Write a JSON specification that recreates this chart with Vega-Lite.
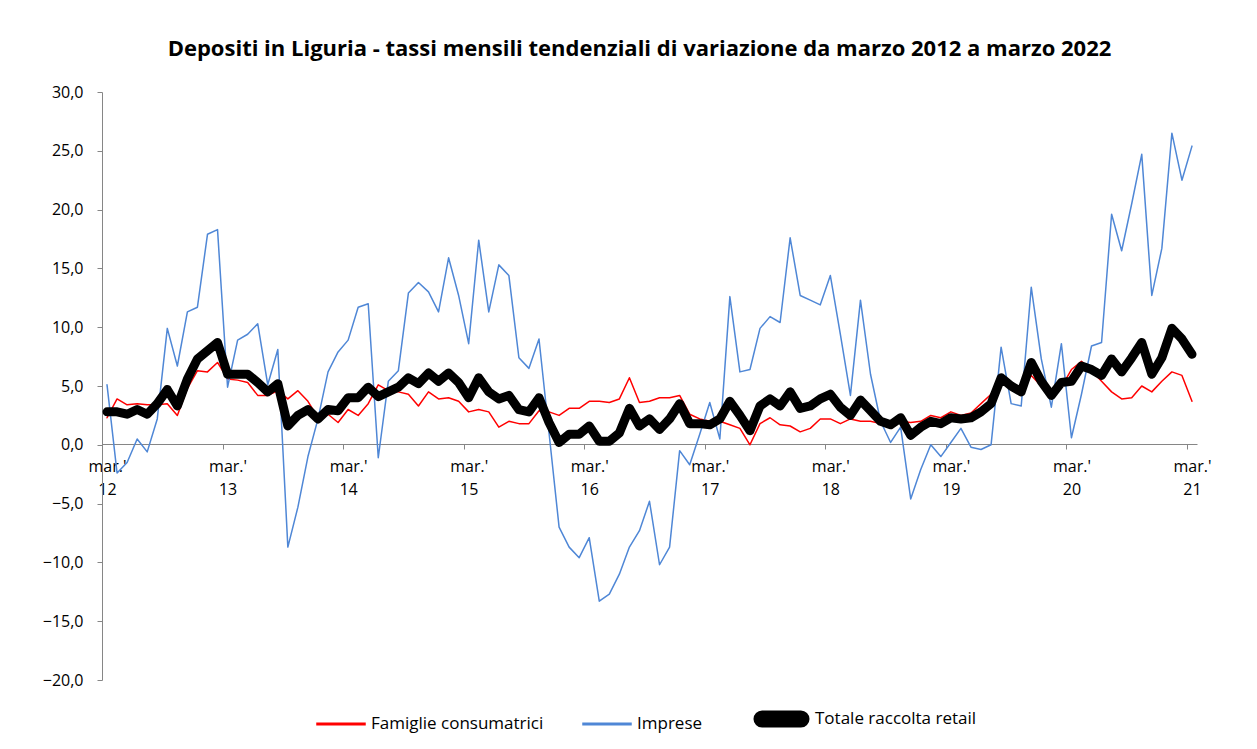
{
"$schema": "https://vega.github.io/schema/vega-lite/v6.json",
"width": 1095, "height": 588,
"autosize": "none",
"padding": {"left": 102, "top": 92, "right": 60, "bottom": 69},
"background": "white",
"config": {"view": {"stroke": null}, "font": "Open Sans"},
"title": {"text": "Depositi in Liguria - tassi mensili tendenziali di variazione da marzo 2012  a marzo 2022", "font": "Open Sans", "fontSize": 22, "fontWeight": "bold", "color": "#000000", "anchor": "middle", "dx": -10, "dy": 28, "offset": 34, "baseline": "alphabetic"},
"data": {"values": [
{"i":0,"fam":2.3,"imp":5.1,"tot":2.8},
{"i":1,"fam":3.9,"imp":-2.4,"tot":2.8},
{"i":2,"fam":3.4,"imp":-1.5,"tot":2.6},
{"i":3,"fam":3.5,"imp":0.5,"tot":3.0},
{"i":4,"fam":3.4,"imp":-0.6,"tot":2.6},
{"i":5,"fam":3.4,"imp":2.2,"tot":3.5},
{"i":6,"fam":3.5,"imp":9.9,"tot":4.7},
{"i":7,"fam":2.5,"imp":6.7,"tot":3.3},
{"i":8,"fam":4.8,"imp":11.3,"tot":5.6},
{"i":9,"fam":6.3,"imp":11.7,"tot":7.3},
{"i":10,"fam":6.2,"imp":17.9,"tot":8.0},
{"i":11,"fam":7.0,"imp":18.3,"tot":8.7},
{"i":12,"fam":5.6,"imp":4.9,"tot":6.0},
{"i":13,"fam":5.5,"imp":8.9,"tot":6.0},
{"i":14,"fam":5.3,"imp":9.4,"tot":6.0},
{"i":15,"fam":4.2,"imp":10.3,"tot":5.3},
{"i":16,"fam":4.2,"imp":5.1,"tot":4.5},
{"i":17,"fam":4.6,"imp":8.1,"tot":5.2},
{"i":18,"fam":3.9,"imp":-8.7,"tot":1.6},
{"i":19,"fam":4.6,"imp":-5.3,"tot":2.5},
{"i":20,"fam":3.7,"imp":-1.0,"tot":3.0},
{"i":21,"fam":2.3,"imp":2.2,"tot":2.2},
{"i":22,"fam":2.6,"imp":6.2,"tot":3.0},
{"i":23,"fam":1.9,"imp":7.9,"tot":2.9},
{"i":24,"fam":3.0,"imp":8.9,"tot":4.0},
{"i":25,"fam":2.5,"imp":11.7,"tot":4.0},
{"i":26,"fam":3.5,"imp":12.0,"tot":4.9},
{"i":27,"fam":5.1,"imp":-1.1,"tot":4.1},
{"i":28,"fam":4.6,"imp":5.4,"tot":4.5},
{"i":29,"fam":4.5,"imp":6.3,"tot":4.9},
{"i":30,"fam":4.3,"imp":12.9,"tot":5.7},
{"i":31,"fam":3.3,"imp":13.8,"tot":5.2},
{"i":32,"fam":4.5,"imp":13.0,"tot":6.1},
{"i":33,"fam":3.9,"imp":11.3,"tot":5.4},
{"i":34,"fam":4.0,"imp":15.9,"tot":6.1},
{"i":35,"fam":3.7,"imp":12.7,"tot":5.3},
{"i":36,"fam":2.8,"imp":8.6,"tot":4.0},
{"i":37,"fam":3.0,"imp":17.4,"tot":5.7},
{"i":38,"fam":2.8,"imp":11.3,"tot":4.5},
{"i":39,"fam":1.5,"imp":15.3,"tot":3.9},
{"i":40,"fam":2.0,"imp":14.4,"tot":4.2},
{"i":41,"fam":1.8,"imp":7.4,"tot":3.0},
{"i":42,"fam":1.8,"imp":6.5,"tot":2.8},
{"i":43,"fam":2.9,"imp":9.0,"tot":4.0},
{"i":44,"fam":2.8,"imp":1.0,"tot":1.9},
{"i":45,"fam":2.5,"imp":-7.0,"tot":0.2},
{"i":46,"fam":3.1,"imp":-8.7,"tot":0.9},
{"i":47,"fam":3.1,"imp":-9.6,"tot":0.9},
{"i":48,"fam":3.7,"imp":-7.9,"tot":1.6},
{"i":49,"fam":3.7,"imp":-13.3,"tot":0.3},
{"i":50,"fam":3.6,"imp":-12.7,"tot":0.3},
{"i":51,"fam":3.9,"imp":-11.0,"tot":1.0},
{"i":52,"fam":5.7,"imp":-8.7,"tot":3.1},
{"i":53,"fam":3.6,"imp":-7.3,"tot":1.6},
{"i":54,"fam":3.7,"imp":-4.8,"tot":2.2},
{"i":55,"fam":4.0,"imp":-10.2,"tot":1.3},
{"i":56,"fam":4.0,"imp":-8.7,"tot":2.2},
{"i":57,"fam":4.2,"imp":-0.5,"tot":3.5},
{"i":58,"fam":2.6,"imp":-1.7,"tot":1.8},
{"i":59,"fam":2.2,"imp":0.9,"tot":1.8},
{"i":60,"fam":2.0,"imp":3.6,"tot":1.7},
{"i":61,"fam":2.0,"imp":0.5,"tot":2.2},
{"i":62,"fam":1.7,"imp":12.6,"tot":3.7},
{"i":63,"fam":1.4,"imp":6.2,"tot":2.5},
{"i":64,"fam":0.0,"imp":6.4,"tot":1.2},
{"i":65,"fam":1.8,"imp":9.9,"tot":3.3},
{"i":66,"fam":2.3,"imp":10.9,"tot":3.9},
{"i":67,"fam":1.7,"imp":10.4,"tot":3.3},
{"i":68,"fam":1.6,"imp":17.6,"tot":4.5},
{"i":69,"fam":1.1,"imp":12.7,"tot":3.1},
{"i":70,"fam":1.4,"imp":12.3,"tot":3.3},
{"i":71,"fam":2.2,"imp":11.9,"tot":3.9},
{"i":72,"fam":2.2,"imp":14.4,"tot":4.3},
{"i":73,"fam":1.8,"imp":9.4,"tot":3.2},
{"i":74,"fam":2.2,"imp":4.2,"tot":2.5},
{"i":75,"fam":2.0,"imp":12.3,"tot":3.8},
{"i":76,"fam":2.0,"imp":6.0,"tot":2.9},
{"i":77,"fam":1.8,"imp":2.0,"tot":2.0},
{"i":78,"fam":1.6,"imp":0.2,"tot":1.7},
{"i":79,"fam":2.0,"imp":1.5,"tot":2.3},
{"i":80,"fam":1.9,"imp":-4.6,"tot":0.8},
{"i":81,"fam":2.0,"imp":-2.1,"tot":1.5},
{"i":82,"fam":2.5,"imp":0.0,"tot":2.0},
{"i":83,"fam":2.3,"imp":-1.0,"tot":1.8},
{"i":84,"fam":2.8,"imp":0.2,"tot":2.3},
{"i":85,"fam":2.5,"imp":1.4,"tot":2.2},
{"i":86,"fam":2.7,"imp":-0.2,"tot":2.3},
{"i":87,"fam":3.5,"imp":-0.4,"tot":2.8},
{"i":88,"fam":4.3,"imp":0.0,"tot":3.5},
{"i":89,"fam":5.6,"imp":8.3,"tot":5.7},
{"i":90,"fam":5.0,"imp":3.5,"tot":5.0},
{"i":91,"fam":4.6,"imp":3.3,"tot":4.5},
{"i":92,"fam":5.9,"imp":13.4,"tot":7.0},
{"i":93,"fam":5.0,"imp":7.3,"tot":5.4},
{"i":94,"fam":4.3,"imp":3.2,"tot":4.2},
{"i":95,"fam":4.9,"imp":8.6,"tot":5.3},
{"i":96,"fam":6.4,"imp":0.6,"tot":5.4},
{"i":97,"fam":7.1,"imp":4.3,"tot":6.7},
{"i":98,"fam":6.3,"imp":8.4,"tot":6.4},
{"i":99,"fam":5.4,"imp":8.7,"tot":5.9},
{"i":100,"fam":4.5,"imp":19.6,"tot":7.3},
{"i":101,"fam":3.9,"imp":16.5,"tot":6.2},
{"i":102,"fam":4.0,"imp":20.5,"tot":7.4},
{"i":103,"fam":5.0,"imp":24.7,"tot":8.7},
{"i":104,"fam":4.5,"imp":12.7,"tot":6.0},
{"i":105,"fam":5.4,"imp":16.7,"tot":7.4},
{"i":106,"fam":6.2,"imp":26.5,"tot":9.9},
{"i":107,"fam":5.9,"imp":22.5,"tot":9.0},
{"i":108,"fam":3.7,"imp":25.4,"tot":7.7}
]},
"transform": [{"fold": ["fam", "imp", "tot"], "as": ["series", "value"]}],
"mark": {"type": "line", "strokeCap": "round", "strokeJoin": "round"},
"encoding": {
  "x": {"field": "i", "type": "quantitative",
    "scale": {"domain": [-0.5, 108.5], "nice": false, "zero": false},
    "axis": {"title": null, "grid": false, "offset": -236,
      "values": [-0.5, 11.5, 23.5, 35.5, 47.5, 59.5, 71.5, 83.5, 95.5, 107.5],
      "labelExpr": "[\"mar.'\", toString(12 + round((datum.value + 0.5) / 12))]",
      "labelOffset": 5, "labelPadding": 9, "labelLineHeight": 23,
      "labelFont": "Open Sans", "labelFontSize": 16, "labelColor": "#000000",
      "labelFlush": false, "labelOverlap": false, "labelBaseline": "top",
      "tickSize": 5, "tickColor": "#868686", "domainColor": "#868686", "domainWidth": 1}},
  "y": {"field": "value", "type": "quantitative",
    "scale": {"domain": [-20, 30], "nice": false, "zero": false},
    "axis": {"title": null, "grid": false,
      "values": [-20, -15, -10, -5, 0, 5, 10, 15, 20, 25, 30],
      "format": ".1f", "labelExpr": "replace(datum.label, '.', ',')",
      "labelFont": "Open Sans", "labelFontSize": 16, "labelColor": "#000000",
      "labelPadding": 14, "tickSize": 5, "tickColor": "#868686", "domainColor": "#868686"}},
  "color": {"field": "series", "type": "nominal",
    "scale": {"domain": ["fam", "imp", "tot"], "range": ["#ff0000", "#4f87d6", "#000000"]},
    "legend": {"title": null, "orient": "none", "direction": "horizontal", "legendX": 214, "legendY": 610,
      "symbolType": "stroke", "symbolSize": 2304, "labelFont": "Open Sans", "labelFontSize": 17, "labelColor": "#000000",
      "labelOffset": 5, "columnPadding": 36, "labelLimit": 400,
      "labelExpr": "datum.label == 'fam' ? 'Famiglie consumatrici' : datum.label == 'imp' ? 'Imprese' : 'Totale raccolta retail'",
      "encode": {
        "symbols": {"update": {
          "shape": {"signal": "datum.value == 'tot' ? 'M-1,-0.5M-0.81,-0.17H0.81A0.17,0.17 0 0 1 0.81,0.17H-0.81A0.17,0.17 0 0 1 -0.81,-0.17ZM1,0.5' : 'M-1,-0.5M-1,-0.032H1V0.032H-1ZM1,0.5'"},
          "fill": {"signal": "datum.value == 'fam' ? '#ff0000' : datum.value == 'imp' ? '#4f87d6' : '#000000'"},
          "fillOpacity": {"value": 1},
          "stroke": {"value": null},
          "strokeWidth": {"value": 0},
          "y": {"signal": "datum.value == 'tot' ? 17 : 12"}}},
        "labels": {"update": {"y": {"signal": "datum.value == 'tot' ? 17 : 12"}}}}}},
  "strokeWidth": {"field": "series", "type": "nominal",
    "scale": {"type": "ordinal", "domain": ["fam", "imp", "tot"], "range": [1.5, 1.5, 9]},
    "legend": null}
}
}
